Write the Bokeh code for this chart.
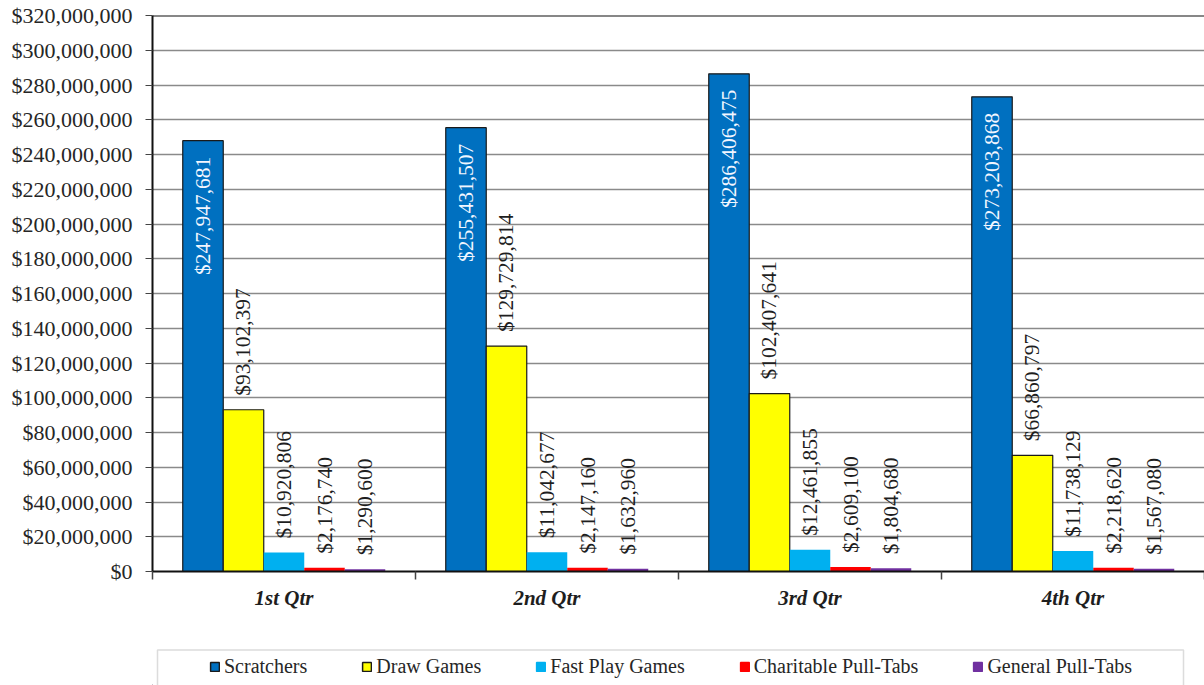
import math

from bokeh.core.properties import value
from bokeh.embed import file_html
from bokeh.layouts import column
from bokeh.models import (BoxAnnotation, ColumnDataSource, FixedTicker, Legend,
                          LegendItem, NumeralTickFormatter, Range1d, Span)
from bokeh.plotting import figure
from bokeh.resources import INLINE

# Quarterly sales by product line
quarters = ["1st Qtr", "2nd Qtr", "3rd Qtr", "4th Qtr"]
series_names = ["Scratchers", "Draw Games", "Fast Play Games",
                "Charitable Pull-Tabs", "General Pull-Tabs"]
scratchers = [247947681, 255431507, 286406475, 273203868]
draw_games = [93102397, 129729814, 102407641, 66860797]
fast_play = [10920806, 11042677, 12461855, 11738129]
charitable_pull_tabs = [2176740, 2147160, 2609100, 2218620]
general_pull_tabs = [1290600, 1632960, 1804680, 1567080]
y_ticks = list(range(0, 320_000_001, 20_000_000))

series_values = [scratchers, draw_games, fast_play, charitable_pull_tabs, general_pull_tabs]
fill_colors = ["#0070C0", "#FFFF00", "#00B0F0", "#FF0000", "#7030A0"]
outline_colors = ["#1a1a1a", "#1a1a1a", None, None, None]

SERIF = "Liberation Serif"
BAR_W = 0.154

p = figure(width=1204, height=648, output_backend="svg", toolbar_location=None,
           x_range=Range1d(0, len(quarters)), y_range=Range1d(0, 320_000_000),
           min_border_left=152, min_border_right=0, min_border_top=15,
           min_border_bottom=77)
p.outline_line_color = None
p.background_fill_color = "white"
p.border_fill_color = "white"

# quarter slots sit at 0.5, 1.5, ... with the category boundaries between them
centers = [i + 0.5 for i in range(len(quarters))]

for k, (name, vals) in enumerate(zip(series_names, series_values)):
    xs = [c + (k - 2) * BAR_W for c in centers]
    src = ColumnDataSource(dict(x=xs, top=vals,
                                label=[f"${v:,}" for v in vals]))
    p.vbar(x="x", top="top", width=BAR_W, source=src,
           fill_color=fill_colors[k], line_color=outline_colors[k], line_width=1.2)
    if k == 0:
        p.text(x="x", y="top", text="label", source=src, angle=math.pi / 2,
               text_align="right", text_baseline="middle", y_offset=16,
               text_font=value(SERIF), text_font_size="21.5px", text_color="#f2f6ff")
    else:
        p.text(x="x", y="top", text="label", source=src, angle=math.pi / 2,
               text_align="left", text_baseline="middle", y_offset=-14,
               text_font=value(SERIF), text_font_size="21.5px", text_color="#1e1e1e")

# y axis: dollar ticks every 20 million
yax = p.yaxis[0]
yax.ticker = FixedTicker(ticks=y_ticks)
yax.formatter = NumeralTickFormatter(format="$0,0")
yax.major_label_text_font = SERIF
yax.major_label_text_font_size = "22px"
yax.major_label_text_color = "#262626"
yax.major_label_standoff = 13
yax.axis_line_color = "#111111"
yax.axis_line_width = 2
yax.major_tick_out = 7
yax.major_tick_in = 0
yax.major_tick_line_color = "#444444"
yax.minor_tick_line_color = None

# x axis: labels at slot centres, ticks at slot boundaries
xax = p.xaxis[0]
xax.ticker = FixedTicker(ticks=centers, minor_ticks=list(range(len(quarters) + 1)))
xax.major_label_overrides = {c: q for c, q in zip(centers, quarters)}
xax.major_label_text_font = SERIF
xax.major_label_text_font_size = "21px"
xax.major_label_text_font_style = "bold italic"
xax.major_label_text_color = "#1e1e1e"
xax.major_label_standoff = 6
xax.major_tick_line_color = None
xax.major_tick_out = 0
xax.major_tick_in = 0
xax.minor_tick_out = 8
xax.minor_tick_in = 0
xax.minor_tick_line_color = "#444444"
xax.minor_tick_line_width = 1.5
xax.axis_line_color = "#111111"
xax.axis_line_width = 2

p.xgrid.grid_line_color = None
p.ygrid.ticker = FixedTicker(ticks=y_ticks)
p.ygrid.grid_line_color = "#8a8a8a"
p.ygrid.grid_line_width = 1.5

p.add_layout(Span(location=320_000_000, dimension="width",
                  line_color="#111111", line_width=2))

# legend strip underneath; its frame lines up with the chart frame (x 152..1204),
# so the range is expressed in page pixels
lg = figure(width=1204, height=37, output_backend="svg", toolbar_location=None,
            x_range=Range1d(152, 1204), y_range=Range1d(0, 37),
            x_axis_type=None, y_axis_type=None,
            min_border_left=152, min_border_right=0, min_border_top=0, min_border_bottom=0)
lg.outline_line_color = None
lg.xgrid.grid_line_color = None
lg.ygrid.grid_line_color = None
lg.add_layout(BoxAnnotation(left=157, right=1183, top=35.5, bottom=-20,
                            fill_color=None, line_color="#8c8c8c", line_width=1.5))

# zero-size swatches (parked left of the frame) that carry the legend styling
items = []
for k, name in enumerate(series_names):
    r = lg.vbar(x=[0], top=[0], bottom=[0], width=0, fill_color=fill_colors[k],
                line_color=outline_colors[k] or fill_colors[k], line_width=1.5)
    items.append(LegendItem(label=name, renderers=[r]))

legend = Legend(items=items, orientation="horizontal", location=(57, 7),
                padding=0, spacing=54, glyph_width=11, glyph_height=11,
                label_standoff=4, label_text_font=SERIF, label_text_font_size="20px",
                label_text_color="#262626", border_line_color=None,
                background_fill_alpha=0, margin=0)
lg.add_layout(legend, "center")

layout = column(p, lg, spacing=0)
open("out.html", "w").write(file_html(layout, INLINE))
